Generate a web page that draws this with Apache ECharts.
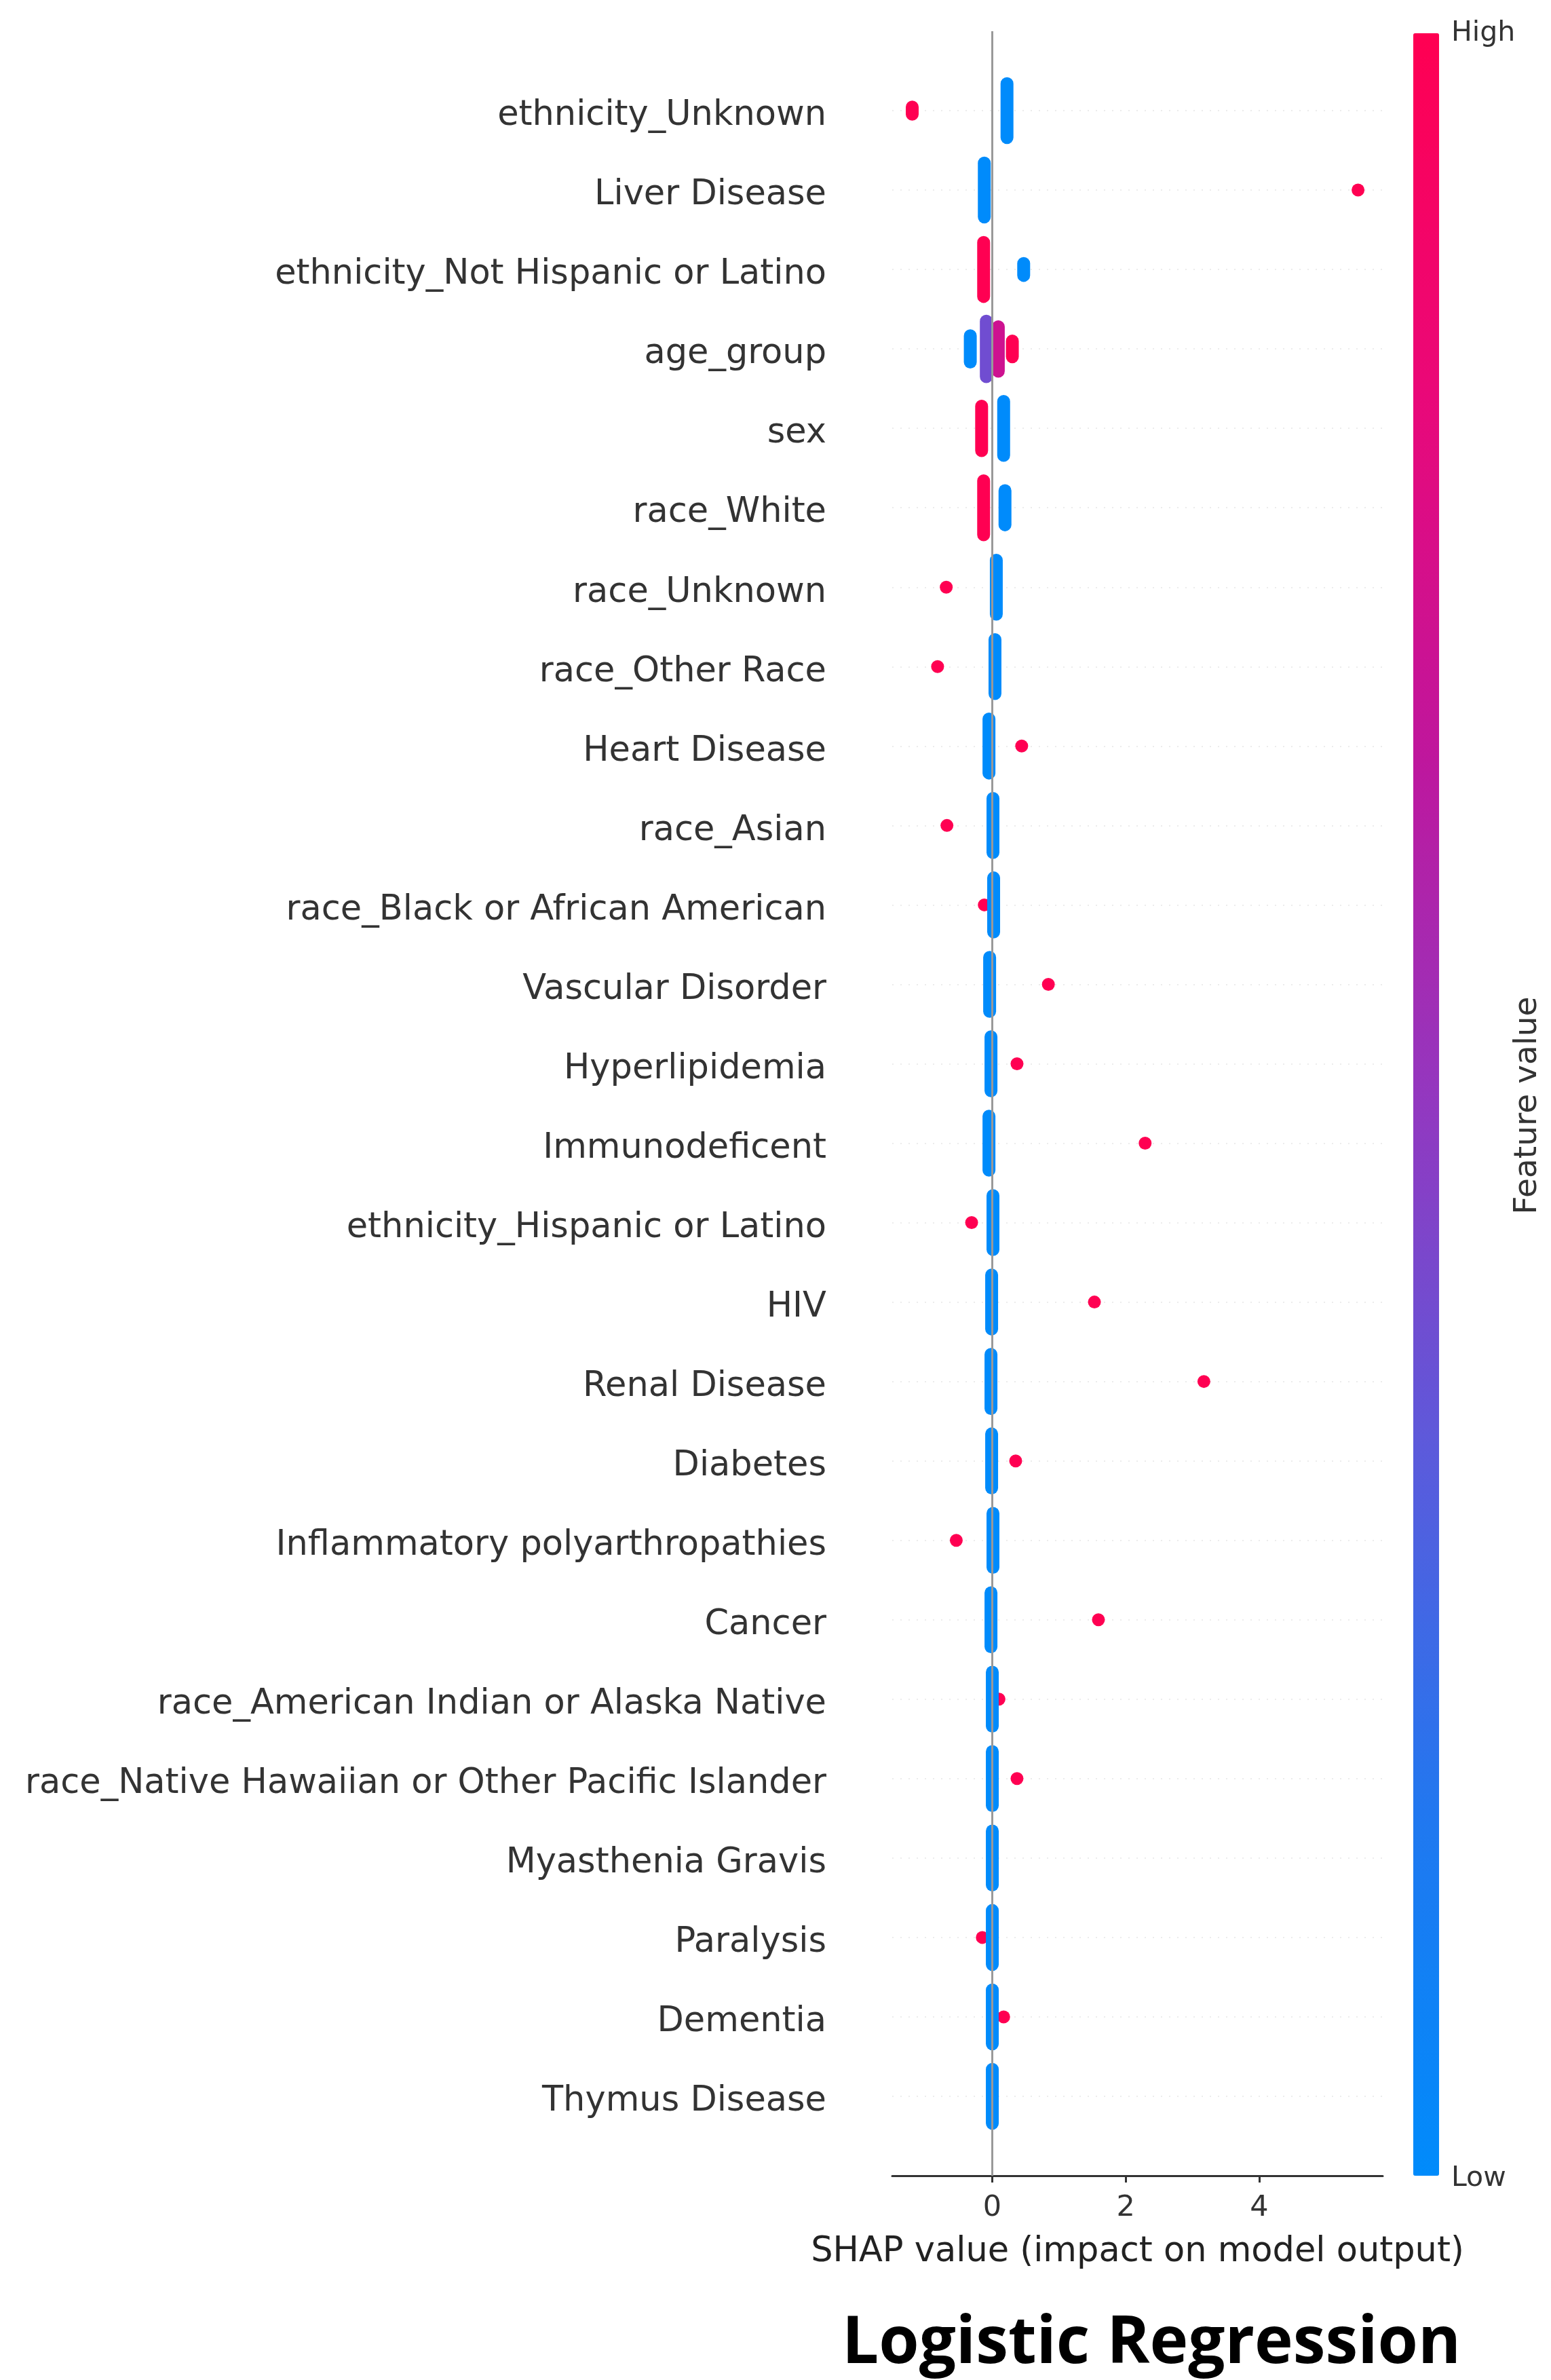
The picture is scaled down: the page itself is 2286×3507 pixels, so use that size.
<!DOCTYPE html>
<html>
<head>
    <meta charset="utf-8" />
    <title>SHAP summary - Logistic Regression</title>
    <script src="https://cdn.jsdelivr.net/npm/echarts@6/dist/echarts.min.js"></script>
    <style>
        body, html {
            margin: 0;
            padding: 0;
            background: #fff;
        }
        #chart {
            width: 2286px;
            height: 3507px;
        }
    </style>
</head>
<body>
<div id="chart"></div>
<script type="text/javascript">
    // features, top to bottom
    const features = [
        'ethnicity_Unknown', 'Liver Disease', 'ethnicity_Not Hispanic or Latino', 'age_group', 'sex',
        'race_White', 'race_Unknown', 'race_Other Race', 'Heart Disease', 'race_Asian',
        'race_Black or African American', 'Vascular Disorder', 'Hyperlipidemia', 'Immunodeficent',
        'ethnicity_Hispanic or Latino', 'HIV', 'Renal Disease', 'Diabetes', 'Inflammatory polyarthropathies',
        'Cancer', 'race_American Indian or Alaska Native', 'race_Native Hawaiian or Other Pacific Islander',
        'Myasthenia Gravis', 'Paralysis', 'Dementia', 'Thymus Disease'
    ];

    // low feature value (blue) cluster: shap value and vertical spread (row units)
    const lowShap = [0.22, -0.12, 0.47, -0.33, 0.17, 0.19, 0.06, 0.04, -0.05, 0.01,
        0.02, -0.04, -0.02, -0.05, 0.01, -0.01, -0.02, -0.01, 0.01, -0.02,
        0.0, 0.0, 0.0, 0.0, 0.0, 0.0];
    const lowSpan = [0.68, 0.68, 0.15, 0.33, 0.68, 0.43, 0.68, 0.68, 0.68, 0.68,
        0.68, 0.68, 0.68, 0.68, 0.68, 0.68, 0.68, 0.68, 0.68, 0.68,
        0.68, 0.68, 0.68, 0.68, 0.68, 0.68];

    // high feature value (red) cluster
    const highShap = [-1.20, 5.48, -0.13, 0.30, -0.16, -0.13, -0.69, -0.82, 0.44, -0.68,
        -0.12, 0.84, 0.37, 2.29, -0.31, 1.53, 3.17, 0.35, -0.54, 1.59,
        0.10, 0.37, null, -0.15, 0.17, null];
    const highSpan = [0.09, 0, 0.68, 0.2, 0.56, 0.68, 0, 0, 0, 0,
        0, 0, 0, 0, 0, 0, 0, 0, 0, 0,
        0, 0, 0, 0, 0, 0];

    // age_group middle levels
    const ageRow = 3;
    const ageMidShap = [-0.09, 0.09];
    const ageMidValue = [0.40, 0.72];
    const ageMidSpan = [0.70, 0.56];

    const xTicks = [0, 2, 4];
    const colorStops = ['#008bfb', '#2078f0', '#5a5bdc', '#9238c0', '#c0169c', '#ea0878', '#ff0052'];

    // [shap, row, span, featureValue] - red first so blue sits on top
    var pills = [];
    highShap.forEach(function (v, i) {
        if (v !== null) pills.push([v, i, highSpan[i], 1]);
    });
    ageMidShap.forEach(function (v, k) {
        pills.push([v, ageRow, ageMidSpan[k], ageMidValue[k]]);
    });
    lowShap.forEach(function (v, i) {
        pills.push([v, i, lowSpan[i], 0]);
    });

    var chart = echarts.init(document.getElementById('chart'));
    var baseFont = 'DejaVu Sans';

    var option = {
        animation: false,
        backgroundColor: '#fff',
        grid: {
            left: 1315,
            right: 248,
            top: 46,
            bottom: 301
        },
        xAxis: {
            type: 'value',
            position: 'bottom',
            min: -1.5,
            max: 5.85,
            splitLine: { show: false },
            axisLine: { show: true, onZero: false, lineStyle: { color: '#333', width: 3 } },
            axisTick: { show: true, length: 10, lineStyle: { color: '#333', width: 3 }, customValues: xTicks },
            axisLabel: {
                customValues: xTicks,
                fontFamily: baseFont,
                fontSize: 43,
                color: '#333',
                margin: 26
            },
            name: 'SHAP value (impact on model output)',
            nameLocation: 'middle',
            nameGap: 87,
            nameTextStyle: { fontFamily: baseFont, fontSize: 51, color: '#222' }
        },
        yAxis: {
            type: 'value',
            min: -1,
            max: 26,
            interval: 1,
            inverse: true,
            axisLine: { show: false },
            axisTick: { show: false },
            splitLine: {
                show: true,
                showMinLine: false,
                showMaxLine: false,
                lineStyle: { color: '#e6e6e6', width: 1.5, type: [2, 10] }
            },
            axisLabel: {
                margin: 97,
                formatter: function (v) {
                    return features[v] !== undefined ? '{f|' + features[v] + '}' : '';
                },
                rich: {
                    f: {
                        fontFamily: baseFont,
                        fontSize: 51,
                        color: '#333',
                        padding: [16, 0, 0, 0]
                    }
                }
            }
        },
        visualMap: {
            type: 'continuous',
            seriesIndex: 1,
            dimension: 3,
            min: 0,
            max: 1,
            calculable: false,
            hoverLink: false,
            orient: 'vertical',
            left: 2083,
            top: 49,
            padding: 0,
            itemWidth: 38,
            itemHeight: 3157,
            text: null,
            inRange: { color: colorStops }
        },
        graphic: [
            {
                type: 'text', x: 2139, y: 49,
                style: { text: 'High', font: '41px "DejaVu Sans"', fill: '#333', textAlign: 'left', textVerticalAlign: 'middle' }
            },
            {
                type: 'text', x: 2139, y: 3210,
                style: { text: 'Low', font: '41px "DejaVu Sans"', fill: '#333', textAlign: 'left', textVerticalAlign: 'middle' }
            },
            {
                type: 'text', x: 2252, y: 1629, rotation: Math.PI / 2,
                style: { text: 'Feature value', font: '47px "DejaVu Sans"', fill: '#333', textAlign: 'center', textVerticalAlign: 'middle' }
            },
            {
                type: 'text', x: 1697, y: 3455,
                style: { text: 'Logistic Regression', font: 'bold 96px "Open Sans"', fill: '#000', textAlign: 'center', textVerticalAlign: 'middle' }
            }
        ],
        series: [
            {
                // zero reference line
                type: 'line',
                data: [],
                z: 1,
                markLine: {
                    silent: true,
                    symbol: ['none', 'none'],
                    label: { show: false },
                    lineStyle: { color: '#999', width: 3, type: 'solid' },
                    data: [{ xAxis: 0 }]
                }
            },
            {
                type: 'custom',
                z: 3,
                data: pills,
                encode: { x: 0, y: 1 },
                renderItem: function (params, api) {
                    var c = api.coord([api.value(0), api.value(1)]);
                    var rowPx = Math.abs(api.size([0, 1])[1]);
                    var d = 19;
                    var h = api.value(2) * rowPx + d;
                    return {
                        type: 'rect',
                        shape: { x: c[0] - d / 2, y: c[1] - h / 2, width: d, height: h, r: d / 2 },
                        style: { fill: api.visual('color') }
                    };
                }
            }
        ]
    };
    chart.setOption(option);
</script>
</body>
</html>
